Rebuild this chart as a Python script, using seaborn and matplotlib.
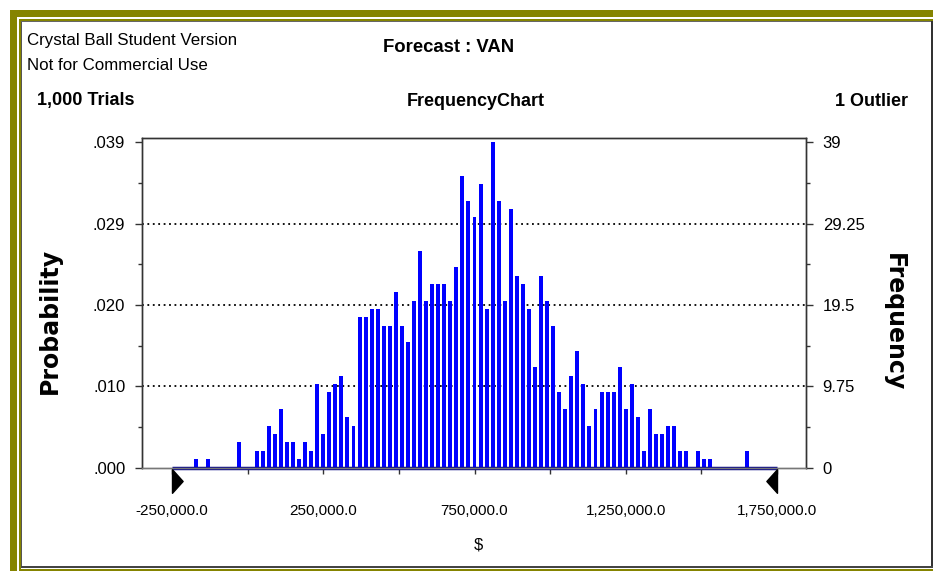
import matplotlib
matplotlib.use("Agg")
import matplotlib.pyplot as plt
import seaborn as sns
import numpy as np
import pandas as pd
from matplotlib.patches import Rectangle
from matplotlib.path import Path
from matplotlib.ticker import FixedLocator, AutoMinorLocator

# ---------------- data ----------------
range_min = -250000
range_max = 1750000
n_bins = 100
bin_index = [3, 5, 10, 13, 14, 15, 16, 17, 18, 19, 20, 21, 22, 23, 24, 25, 26, 27, 28, 29,
             30, 31, 32, 33, 34, 35, 36, 37, 38, 39, 40, 41, 42, 43, 44, 45, 46, 47, 48, 49,
             50, 51, 52, 53, 54, 55, 56, 57, 58, 59, 60, 61, 62, 63, 64, 65, 66, 67, 68, 69,
             70, 71, 72, 73, 74, 75, 76, 77, 78, 79, 80, 81, 82, 83, 84, 86, 87, 88, 94]
bin_count = [1, 1, 3, 2, 2, 5, 4, 7, 3, 3, 1, 3, 2, 10, 4, 9, 10, 11, 6, 5,
             18, 18, 19, 19, 17, 17, 21, 17, 15, 20, 26, 20, 22, 22, 22, 20, 24, 35, 32, 30,
             34, 19, 39, 32, 20, 31, 23, 22, 19, 12, 23, 20, 17, 9, 7, 11, 14, 10, 5, 7,
             9, 9, 9, 12, 7, 10, 6, 2, 7, 4, 4, 5, 5, 2, 2, 2, 1, 1, 2]
freq_ticks = [0, 9.75, 19.5, 29.25, 39]
freq_tick_labels = ["0", "9.75", "19.5", "29.25", "39"]
prob_tick_labels = [".000", ".010", ".020", ".029", ".039"]
x_ticks = [-250000, 250000, 750000, 1250000, 1750000]
x_tick_labels = ["-250,000.0", "250,000.0", "750,000.0", "1,250,000.0", "1,750,000.0"]
x_minor_ticks = [0, 500000, 1000000, 1500000]

title_left_1 = "Crystal Ball Student Version"
title_left_2 = "Not for Commercial Use"
title_main = "Forecast : VAN"
trials_text = "1,000 Trials"
chart_text = "FrequencyChart"
outlier_text = "1 Outlier"

# ---------------- build table ----------------
counts = np.zeros(n_bins)
counts[bin_index] = bin_count
bw = (range_max - range_min) / n_bins
df = pd.DataFrame({"value": range_min + bw * (np.arange(n_bins) + 1.0),
                   "freq": counts})

# ---------------- figure ----------------
W, H = 933, 571
sns.set_style("ticks")
plt.rcParams["font.family"] = ["Liberation Sans", "DejaVu Sans"]
plt.rcParams["text.color"] = "black"
plt.rcParams["xtick.color"] = "black"
plt.rcParams["ytick.color"] = "black"
plt.rcParams["axes.labelcolor"] = "black"
fig = plt.figure(figsize=(W / 100, H / 100), dpi=100)

def px_rect(x0, y0, x1, y1, color):
    fig.add_artist(Rectangle((x0 / W, 1 - y1 / H), (x1 - x0) / W, (y1 - y0) / H,
                             transform=fig.transFigure, facecolor=color,
                             edgecolor="none", lw=0, zorder=0))

olive = "#858400"
px_rect(10, 10, 933, 17, olive)
px_rect(10, 10, 17, 571, olive)
px_rect(19, 19, 933, 21, olive)
px_rect(19, 19, 21, 571, olive)
px_rect(19, 569, 933, 571, olive)
px_rect(21, 21, 22, 567, "#555555")
px_rect(21, 21, 933, 22, "#666666")
px_rect(931, 21, 933, 568, "#333333")
px_rect(21, 566, 933, 568, "#444444")

ax_l, ax_r, ax_t, ax_b = 142, 806, 138.3, 467.5
ax = fig.add_axes([ax_l / W, 1 - ax_b / H, (ax_r - ax_l) / W, (ax_b - ax_t) / H])

sns.barplot(data=df, x="value", y="freq", native_scale=True, width=0.65,
            color="#0000ff", saturation=1, errorbar=None, linewidth=0, ax=ax, zorder=3)

ppx = (range_max - range_min) / (777 - 172)
ax.set_xlim(range_min - (172 - ax_l) * ppx, range_max + (ax_r - 777) * ppx)
ppu = (ax_b - 142.3) / 39
ylim_top = (ax_b - ax_t) / ppu
ax.set_ylim(0, ylim_top)

for y in freq_ticks[1:-1]:
    ax.axhline(y, color="black", lw=1.3, linestyle=(0, (1, 2)), zorder=1)

# baseline across the range and range triangles
ax.plot([range_min, range_max], [0, 0], color="#10108a", lw=2.5,
        clip_on=False, zorder=5, solid_capstyle="butt")
tri_y = -(481 - ax_b) / ppu
left_tri = Path([(0, 1), (0, -1), (0.9, 0), (0, 1)], closed=True)
right_tri = Path([(0, 1), (0, -1), (-0.9, 0), (0, 1)], closed=True)
ax.plot([range_min], [tri_y], marker=left_tri, markersize=17, color="black",
        clip_on=False, linestyle="none", zorder=6)
ax.plot([range_max], [tri_y], marker=right_tri, markersize=17, color="black",
        clip_on=False, linestyle="none", zorder=6)

ax.set_xticks(x_ticks)
ax.set_xticklabels(x_tick_labels, fontsize=11)
ax.xaxis.set_minor_locator(FixedLocator(x_minor_ticks))
ax.tick_params(axis="x", which="both", length=4, width=1, color="#333333", pad=22,
               direction="out")
ax.set_xlabel("")
ax.set_ylabel("")

ax.set_yticks(freq_ticks)
ax.set_yticklabels(prob_tick_labels, fontsize=12)
ax.yaxis.set_minor_locator(AutoMinorLocator(2))
ax.tick_params(axis="y", which="major", length=5, width=1, color="#333333", pad=7)
ax.tick_params(axis="y", which="minor", length=3, width=1, color="#333333")

ax2 = ax.twinx()
ax2.set_position(ax.get_position())
ax2.set_ylim(0, ylim_top)
ax2.set_yticks(freq_ticks)
ax2.set_yticklabels(freq_tick_labels, fontsize=12)
ax2.yaxis.set_minor_locator(AutoMinorLocator(2))
ax2.tick_params(axis="y", which="major", length=5, width=1, color="#333333", pad=7)
ax2.tick_params(axis="y", which="minor", length=3, width=1, color="#333333")

for a in (ax, ax2):
    for s in ("left", "right", "top"):
        a.spines[s].set_visible(True)
        a.spines[s].set_color("#333333")
        a.spines[s].set_linewidth(1)
    a.spines["bottom"].set_color("#777777")
    a.spines["bottom"].set_linewidth(1)

# ---------------- texts ----------------
def ftext(x, y, s, **kw):
    fig.text(x / W, 1 - y / H, s, **kw)

ftext(27, 40, title_left_1, fontsize=12.2, ha="left", va="center")
ftext(27, 66, title_left_2, fontsize=12.2, ha="left", va="center")
ftext(449, 47, title_main, fontsize=13.3, fontweight="bold", ha="center", va="center")
ftext(37, 101, trials_text, fontsize=13, fontweight="bold", ha="left", va="center")
ftext(476, 101, chart_text, fontsize=13, fontweight="bold", ha="center", va="center")
ftext(908, 101, outlier_text, fontsize=13, fontweight="bold", ha="right", va="center")
ftext(478, 545, "$", fontsize=12, ha="center", va="center")
ftext(50, 321, "Probability", fontsize=17, fontweight="bold", rotation=90,
      ha="center", va="center", family=["DejaVu Sans"])
ftext(894, 322, "Frequency", fontsize=17, fontweight="bold", rotation=-90,
      ha="center", va="center", family=["DejaVu Sans"])

fig.savefig("out.png", dpi=100)
